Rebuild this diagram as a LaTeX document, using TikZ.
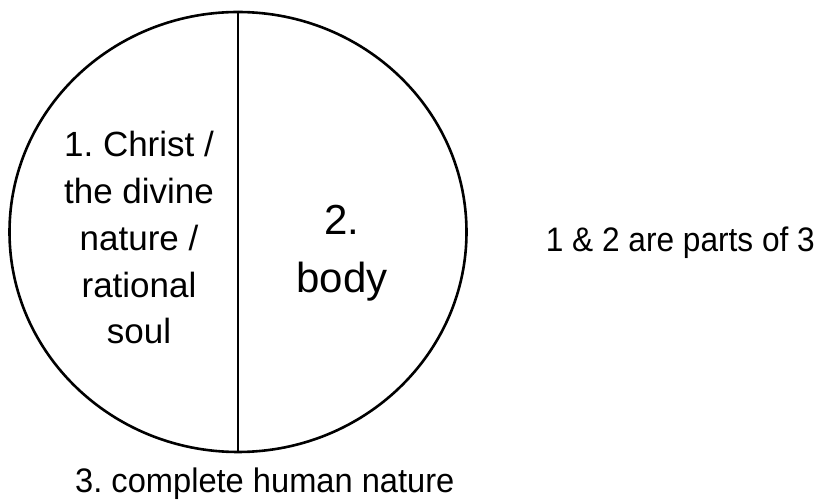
\documentclass[tikz,border=0pt]{standalone}
\usepackage{fontspec}
\setmainfont{Liberation Sans}
\newfontfamily\narrowA{Liberation Sans}[FakeStretch=0.93]
\newfontfamily\narrowB{Liberation Sans}[FakeStretch=0.96]
\usetikzlibrary{shapes.geometric}
\begin{document}
\begin{tikzpicture}[x=1pt,y=-1pt,
  txt/.style={inner sep=0pt, anchor=base, font=\fontsize{35}{42}\selectfont\frenchspacing},
  big/.style={inner sep=0pt, anchor=base, font=\fontsize{42}{50}\selectfont\frenchspacing}]
\useasboundingbox (0,0) rectangle (823,502);
\node[ellipse, draw, line width=2.6pt, minimum width=457pt, minimum height=440pt, inner sep=0pt] (c) at (238,232) {};
\draw[line width=2.6pt] (c.north) -- (c.south);
\node[txt] (l1) at (139,157) {1. Christ /};
\node[txt] (l2) at (139,204) {the divine};
\node[txt] (l3) at (139,251) {nature /};
\node[txt] (l4) at (139,298) {rational};
\node[txt] (l5) at (139,344) {soul};
\node[big] (b1) at (342,235) {2.};
\node[big] (b2) at (342,293) {body};
\node[txt, anchor=base west, font=\narrowB\fontsize{34}{40}\selectfont\frenchspacing] (n3) at (75,493) {3. complete human nature};
\node[txt, anchor=base east, font=\narrowA\fontsize{34}{40}\selectfont\frenchspacing] (r) at (815,252) {1 \& 2 are parts of 3};
\end{tikzpicture}
\end{document}
